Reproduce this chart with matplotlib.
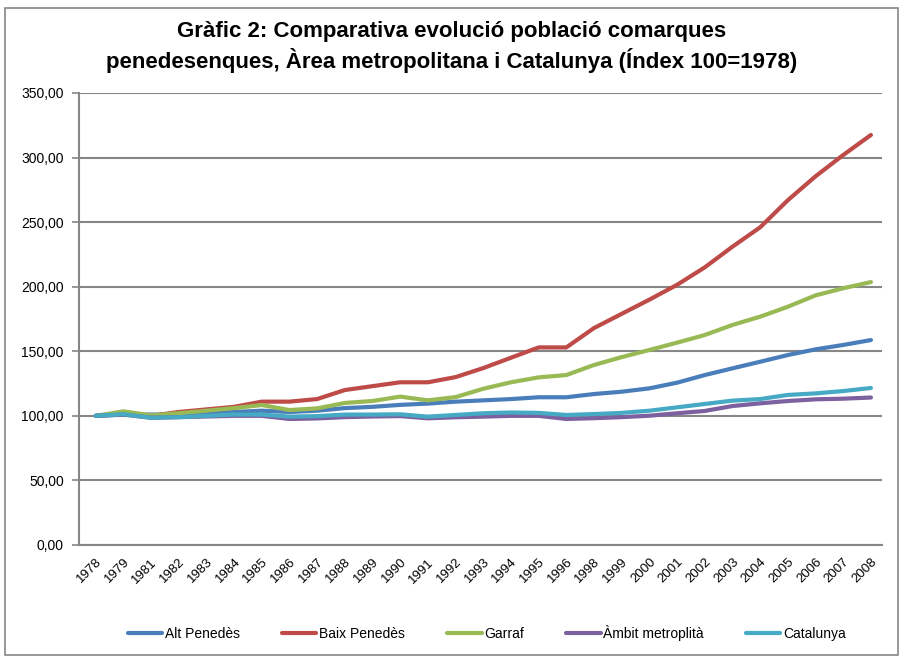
import matplotlib.pyplot as plt
from matplotlib.patches import Rectangle

# Data
years = ['1978', '1979', '1981', '1982', '1983', '1984', '1985', '1986', '1987', '1988',
         '1989', '1990', '1991', '1992', '1993', '1994', '1995', '1996', '1998', '1999',
         '2000', '2001', '2002', '2003', '2004', '2005', '2006', '2007', '2008']

alt_penedes = [100, 101, 101, 101, 102, 103, 104, 103, 104, 106, 107, 108.5, 109.5, 111,
               112, 113, 114.4, 114.4, 116.9, 118.7, 121.3, 125.7, 131.6, 136.8, 141.9,
               147.1, 151.5, 154.9, 158.7]
baix_penedes = [100, 102, 100, 103, 105, 107, 111, 111, 113, 120, 123, 126, 126, 130,
                137, 145, 153, 153, 168, 179, 190, 201.5, 215, 231, 246, 267, 285.5,
                302, 317.5]
garraf = [100, 103.5, 100.4, 102, 104, 106, 108.4, 104.5, 105.8, 110, 111.5, 114.9, 112,
          114.5, 121, 126, 129.8, 131.6, 139.4, 145.5, 151, 156.7, 162.6, 170.4, 176.8,
          184.5, 193.3, 198.8, 203.6]
ambit_metro = [100, 101, 98.5, 99, 99.5, 100, 100, 97.6, 98, 99, 99.5, 99.8, 98.1, 98.9,
               99.4, 100, 100, 97.6, 98.2, 99, 100.1, 102, 103.8, 107.6, 109.7, 111.5,
               112.8, 113.3, 114.2]
catalunya = [100, 101.3, 98.5, 99, 100, 101, 101, 99.4, 99.8, 101, 101, 101.2, 99.4,
             100.7, 102, 102.6, 102.3, 100.7, 101.4, 102.3, 104, 106.6, 109.2, 111.8, 113,
             116.2, 117.4, 119.2, 121.6]

series = [
    ('Alt Penedès', alt_penedes, '#4A7EBB'),
    ('Baix Penedès', baix_penedes, '#BE4B48'),
    ('Garraf', garraf, '#98B954'),
    ('Àmbit metroplità', ambit_metro, '#7D60A0'),
    ('Catalunya', catalunya, '#46AAC5'),
]

plt.rcParams['font.family'] = ['Liberation Sans', 'DejaVu Sans']

fig = plt.figure(figsize=(9.03, 6.59), dpi=100)
fig.patches.append(Rectangle((0.006, 0.006), 0.988, 0.982, transform=fig.transFigure,
                             fill=False, edgecolor='#868686', linewidth=1.2))

ax = fig.add_axes([79 / 903, 1 - 545 / 659, (882 - 79) / 903, (545 - 93) / 659])

x = list(range(len(years)))
for name, vals, color in series:
    ax.plot(x, vals, color=color, linewidth=3, label=name, solid_capstyle='round')

ax.set_ylim(0, 350)
ax.set_xlim(-0.6, len(years) - 0.6)
ax.set_yticks(range(0, 351, 50))
ax.set_yticklabels([f'{v},00' for v in range(0, 351, 50)], fontsize=10)
ax.set_xticks(x)
ax.set_xticklabels(years, rotation=45, ha='right', rotation_mode='anchor', fontsize=9.5)
ax.tick_params(axis='x', length=0, pad=8)
ax.tick_params(axis='y', length=5, color='#868686', width=1.2, pad=6)
ax.grid(axis='y', color='#868686', linewidth=1.5)
ax.set_axisbelow(True)
for side in ['top', 'right']:
    ax.spines[side].set_visible(False)
for side in ['left', 'bottom']:
    ax.spines[side].set_color('#868686')
    ax.spines[side].set_linewidth(1.5)

fig.text(0.5, 0.928, 'Gràfic 2: Comparativa evolució població comarques\n'
         'penedesenques, Àrea metropolitana i Catalunya (Índex 100=1978)',
         ha='center', va='center', fontsize=16, fontweight='bold', linespacing=1.3)

fig.legend(loc='center', bbox_to_anchor=(0.539, 0.0395), ncol=5, frameon=False,
           fontsize=10, handlelength=2.5, handletextpad=0.2, columnspacing=3.0)

plt.savefig('out.png', dpi=100)
